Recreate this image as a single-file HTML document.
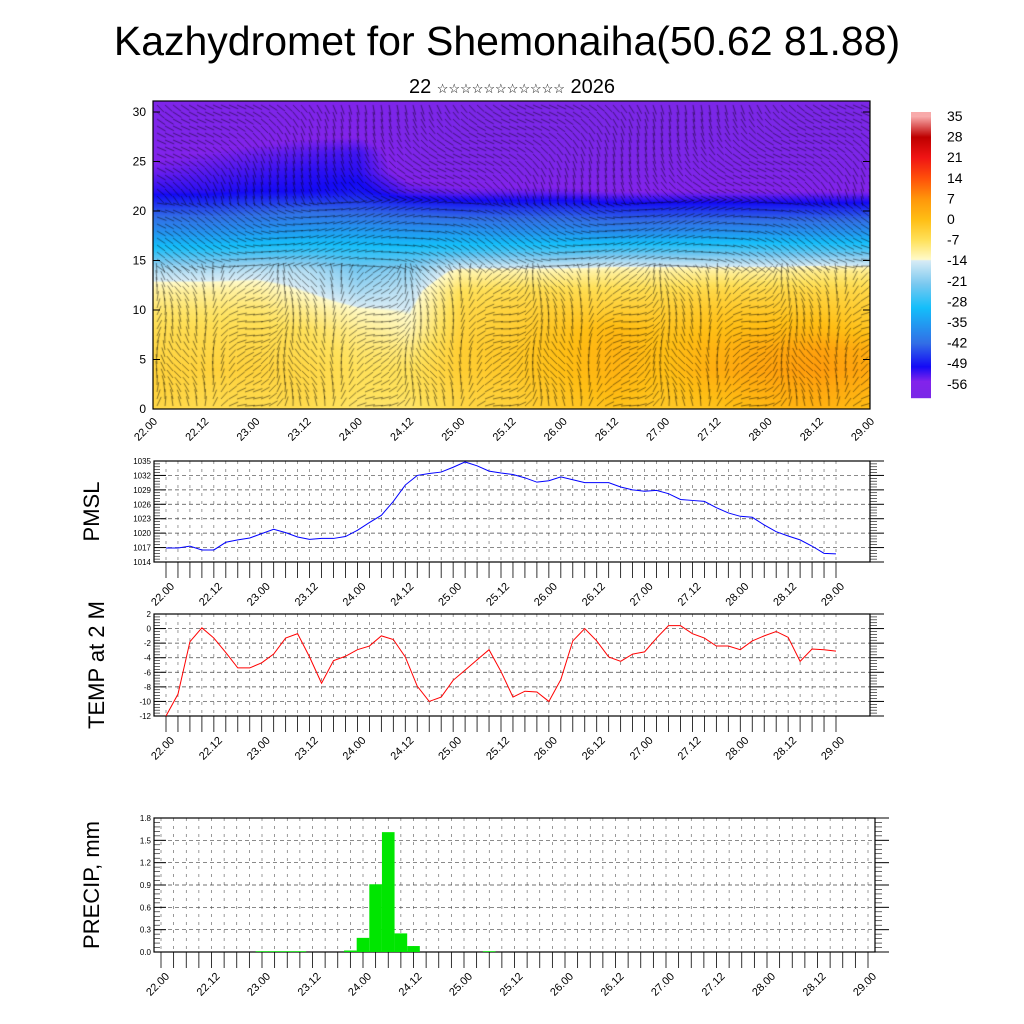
<!DOCTYPE html>
<html><head><meta charset="utf-8"><style>
body{margin:0;background:#fff}
svg{display:block;font-family:"Liberation Sans",sans-serif}
</style></head><body>
<div style="position:relative;width:1024px;height:1024px">
<canvas id="hm" width="717" height="308" style="position:absolute;left:153px;top:101px"></canvas>
<svg id="s" width="1024" height="1024" style="position:absolute;left:0;top:0">
<text x="507" y="55" font-size="41" text-anchor="middle">Kazhydromet for Shemonaiha(50.62 81.88)</text>
<text x="512" y="93" font-size="20" text-anchor="middle">22 <tspan font-size="13">☆☆☆☆☆☆☆☆☆☆☆</tspan> 2026</text>
</svg>
</div>
<script>
const xLabels=["22.00","22.12","23.00","23.12","24.00","24.12","25.00","25.12","26.00","26.12","27.00","27.12","28.00","28.12","29.00"];
const heights=[30,28,26,24,22,20,18,16,14,12,10,8,6,4,2,0];
// temperature grid: rows = heights, cols = 12h times (15)
const tempGrid=[
[-58,-58,-58,-57,-57,-59,-60,-60,-60,-60,-60,-60,-60,-60,-60],
[-58,-58,-57,-56,-56,-59,-60,-60,-60,-60,-60,-60,-60,-60,-60],
[-56,-55,-54,-53,-52,-58,-59,-59,-59,-59,-59,-59,-59,-59,-59],
[-54,-53,-52,-51,-51,-57,-58,-58,-58,-58,-58,-58,-58,-58,-58],
[-51,-51,-50,-50,-49,-53,-54,-54,-54,-55,-55,-55,-55,-55,-55],
[-44,-44,-43,-42,-43,-44,-45,-45,-45,-46,-46,-46,-46,-46,-46],
[-37,-37,-36,-35,-35,-36,-36,-37,-37,-38,-38,-37,-37,-37,-37],
[-28,-28,-27,-27,-28,-28,-27,-26,-26,-25,-25,-25,-25,-25,-25],
[-17,-17,-16,-17,-22,-20,-12,-12,-12,-11,-11,-11,-11,-10,-10],
[-11,-11,-11,-14,-18,-16,-7,-6,-6,-6,-6,-5,-5,-5,-5],
[-8,-8,-8,-10,-13,-14,-5,-4,-3,-3,-3,-2,-2,-2,-3],
[-6,-6,-6,-7,-10,-12,-4,-3,-1,1,-1,0,1,1,-1],
[-5,-5,-5,-6,-8,-9,-3,-2,0,2,0,2,4,5,3],
[-4,-4,-4,-5,-7,-7,-3,-2,0,2,0,3,5,6,4],
[-4,-5,-5,-5,-7,-7,-4,-3,-1,1,-1,1,3,4,2],
[-5,-6,-6,-6,-8,-8,-5,-4,-2,-1,-2,-1,1,2,0]];
const pmsl=[1016.9,1016.9,1017.3,1016.5,1016.5,1018.1,1018.6,1019.0,1019.9,1020.8,1020.1,1019.2,1018.7,1018.9,1018.9,1019.3,1020.6,1022.2,1023.7,1026.6,1030.0,1032.0,1032.4,1032.7,1033.7,1034.8,1034.0,1032.9,1032.5,1032.2,1031.5,1030.6,1030.9,1031.7,1031.1,1030.5,1030.5,1030.5,1029.6,1029.0,1028.7,1028.9,1028.2,1027.0,1026.8,1026.6,1025.3,1024.2,1023.5,1023.3,1021.7,1020.3,1019.4,1018.6,1017.3,1015.8,1015.7];
const t2m=[-12,-9,-1.8,0.1,-1.3,-3.3,-5.4,-5.4,-4.7,-3.5,-1.3,-0.7,-3.9,-7.5,-4.4,-3.8,-2.9,-2.4,-1.0,-1.5,-3.9,-7.9,-10.0,-9.4,-7.1,-5.7,-4.3,-2.9,-5.9,-9.4,-8.6,-8.7,-10.0,-7.0,-1.7,0.0,-1.7,-3.9,-4.5,-3.5,-3.2,-1.3,0.4,0.4,-0.7,-1.3,-2.4,-2.4,-2.9,-1.7,-1.0,-0.4,-1.2,-4.5,-2.8,-2.9,-3.1];
const precip=[0,0,0,0,0,0,0,0,0.01,0.01,0.01,0.01,0,0,0,0.02,0.19,0.91,1.61,0.25,0.08,0,0,0,0,0,0.01,0,0,0,0,0,0,0,0,0,0,0,0,0,0,0,0,0,0,0,0,0,0,0,0,0,0,0,0,0,0];
const pmslTicks=[1014,1017,1020,1023,1026,1029,1032,1035];
const tempTicks=[-12,-10,-8,-6,-4,-2,0,2];
const precipTicks=[0.0,0.3,0.6,0.9,1.2,1.5,1.8];
const cbLabels=[35,28,21,14,7,0,-7,-14,-21,-28,-35,-42,-49,-56];

const NS="http://www.w3.org/2000/svg";const S=document.getElementById('s');
function el(t,a,p){const e=document.createElementNS(NS,t);for(const k in a)e.setAttribute(k,a[k]);(p||S).appendChild(e);return e;}
const cstops=[[-62,[120,40,230]],[-55,[130,35,235]],[-50,[20,10,245]],[-42,[50,110,230]],[-30,[20,190,250]],[-22,[120,200,240]],[-14,[215,235,245]],[-13.5,[255,250,200]],[-7,[255,225,90]],[0,[255,190,20]],[7,[255,150,10]],[14,[255,80,10]],[21,[240,20,20]],[28,[190,0,0]],[35,[248,170,170]]];
function cmap(v){if(v<=cstops[0][0])return cstops[0][1];for(let i=1;i<cstops.length;i++){if(v<=cstops[i][0]){const a=cstops[i-1],b=cstops[i],f=(v-a[0])/(b[0]-a[0]);return a[1].map((c,j)=>Math.round(c+(b[1][j]-c)*f));}}return cstops[cstops.length-1][1];}
const TX0=153,TX1=870,TY0=101,TY1=409;
const tx=i=>TX0+i*(TX1-TX0)/(xLabels.length-1);
const tyz=z=>409-z*9.9;
(function(){const c=document.getElementById('hm').getContext('2d');const W=717,H=308;
const img=c.createImageData(W,H);
for(let py=0;py<H;py++){const z=(409-(101+py))/9.9;let r=(30-z)/2;r=Math.max(0,Math.min(heights.length-1.001,r));const r0=Math.floor(r),fr=r-r0;
for(let px=0;px<W;px++){let cc=px/W*(xLabels.length-1);cc=Math.min(xLabels.length-1.001,cc);const c0=Math.floor(cc),fc=cc-c0;
const v=(tempGrid[r0][c0]*(1-fc)+tempGrid[r0][c0+1]*fc)*(1-fr)+(tempGrid[r0+1][c0]*(1-fc)+tempGrid[r0+1][c0+1]*fc)*fr;
const col=cmap(v);const k=(py*W+px)*4;img.data[k]=col[0];img.data[k+1]=col[1];img.data[k+2]=col[2];img.data[k+3]=255;}}
c.putImageData(img,0,0);
c.strokeStyle='rgba(0,0,0,0.6)';c.lineWidth=0.8;
for(let gx=4;gx<W;gx+=8)for(let gy=4;gy<H;gy+=7){const z=(308-gy)/9.9;let a;
if(z>14)a=(z>21?-0.9:-0.15)+Math.sin(gx*0.02+gy*0.03)*0.5;else a=1.2+Math.sin(gx*0.05)*0.9+Math.cos(gy*0.07)*0.3;
const L=10;c.beginPath();c.moveTo(gx,gy);c.lineTo(gx+L*Math.cos(a),gy-L*Math.sin(a));c.stroke();}
})();
el('rect',{x:TX0,y:TY0,width:TX1-TX0,height:TY1-TY0,fill:'none',stroke:'#000','stroke-width':1.2,});
for(let z=0;z<=30;z+=5){el('text',{x:146,y:tyz(z)+4,'font-size':12,'text-anchor':'end',}).textContent=z;
el('line',{x1:TX0,x2:TX0+7,y1:tyz(z),y2:tyz(z),stroke:'#000'});el('line',{x1:TX1,x2:TX1-7,y1:tyz(z),y2:tyz(z),stroke:'#000'});}
xLabels.forEach((l,i)=>{const x=tx(i);el('text',{x:x+5,y:422,'font-size':11,'text-anchor':'end',transform:`rotate(-45 ${x+5} 422)`,}).textContent=l;});
const cb=el('g',{});
for(let y=112;y<398;y++){const v=35-(y-116)/(384-116)*91;const c=cmap(v);el('rect',{x:911,y:y,width:20,height:1.2,fill:`rgb(${c})`},cb);}
cbLabels.forEach((v,i)=>{const t=el('text',{x:947,y:121+i*20.6,'font-size':14,});t.textContent=v;});
function panel(o){const g=el('g',{});
const n=57;const xs=i=>o.xa+i*(o.xb-o.xa)/(n-1);const ys=v=>o.y1-(v-o.lo)/(o.hi-o.lo)*(o.y1-o.y0);
for(let i=0;i<n;i++)el('line',{x1:xs(i),x2:xs(i),y1:o.y0,y2:o.y1,stroke:'#555','stroke-width':0.6,'stroke-dasharray':'3,5'},g);
o.ticks.forEach(v=>{el('line',{x1:o.x0,x2:o.x1,y1:ys(v),y2:ys(v),stroke:'#444','stroke-width':0.7,'stroke-dasharray':'4,3'},g);
el('line',{x1:o.x0,x2:o.x0+12,y1:ys(v),y2:ys(v),stroke:'#000'},g);el('line',{x1:o.x1,x2:o.x1+14,y1:ys(v),y2:ys(v),stroke:'#000'},g);
const t=el('text',{x:o.x0-3,y:ys(v)+3,'font-size':8,'text-anchor':'end',},g);t.textContent=o.fmt(v);});
for(let k=0;k<o.ticks.length-1;k++)for(let m=1;m<5;m++){const v=o.ticks[k]+(o.ticks[k+1]-o.ticks[k])*m/5;el('line',{x1:o.x0,x2:o.x0+6,y1:ys(v),y2:ys(v),stroke:'#000','stroke-width':0.6},g);el('line',{x1:o.x1,x2:o.x1+7,y1:ys(v),y2:ys(v),stroke:'#000','stroke-width':0.6},g);}
for(let i=0;i<n;i++)el('line',{x1:xs(i),x2:xs(i),y1:o.y1,y2:o.y1+16,stroke:'#000','stroke-width':0.8},g);
xLabels.forEach((l,i)=>{const x=xs(i*4);const t=el('text',{x:x+9,y:o.y1+25,'font-size':11,'text-anchor':'end',transform:`rotate(-45 ${x+9} ${o.y1+25})`,},g);t.textContent=l;});
el('rect',{x:o.x0,y:o.y0,width:o.x1-o.x0,height:o.y1-o.y0,fill:'none',stroke:'#000','stroke-width':1.2,},g);
const t=el('text',{x:0,y:0,'font-size':22,'text-anchor':'middle',transform:`translate(${o.lx} ${(o.y0+o.y1)/2}) rotate(-90)`,},g);t.textContent=o.title;
if(o.bars){o.data.forEach((v,i)=>{if(v<=0)return;const w=(o.xb-o.xa)/(n-1);el('rect',{x:xs(i)-w/2,y:ys(v),width:w,height:ys(0)-ys(v),fill:'#00e600',},g);});}
else{el('polyline',{points:o.data.map((v,i)=>xs(i)+','+ys(v)).join(' '),fill:'none',stroke:o.color,'stroke-width':1,},g);}}
panel({name:'pmsl-panel',x0:154,x1:870,xa:166,xb:836,y0:461,y1:562,lo:1014,hi:1035,ticks:pmslTicks,fmt:v=>v,data:pmsl,color:'#0000ff',title:'PMSL',lx:99});
panel({name:'temp-panel',x0:154,x1:870,xa:166,xb:836,y0:614,y1:716,lo:-12,hi:2,ticks:tempTicks,fmt:v=>v,data:t2m,color:'#ff0000',title:'TEMP at 2 M',lx:104});
panel({name:'precip-panel',x0:154,x1:875,xa:161,xb:868,y0:818,y1:952,lo:0,hi:1.8,ticks:precipTicks,fmt:v=>v.toFixed(1),data:precip,bars:true,title:'PRECIP, mm',lx:99});
</script>
</body></html>
